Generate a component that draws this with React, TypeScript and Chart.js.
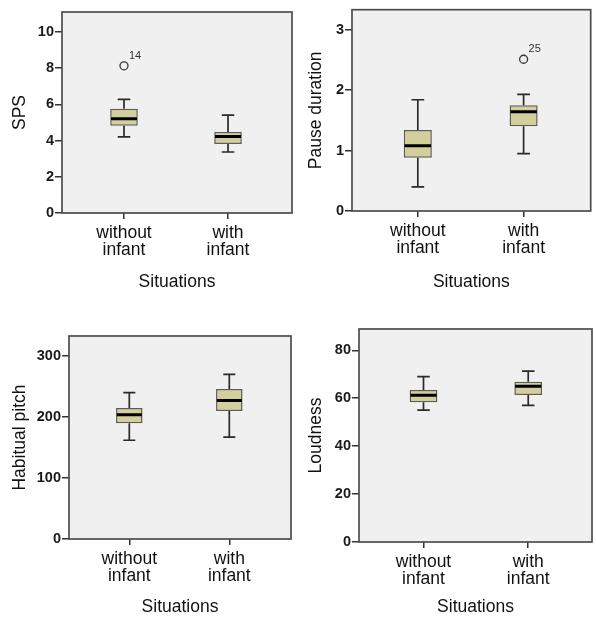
import React, { useEffect, useRef } from 'react';
import { Chart, registerables } from 'chart.js';

Chart.register(...registerables);

// ---------- data ----------
const categoryLabels = [['without', 'infant'], ['with', 'infant']];
const xAxisTitle = 'Situations';

const spsMin = [4.2, 3.37];
const spsQ1 = [4.82, 3.81];
const spsMedian = [5.21, 4.22];
const spsQ3 = [5.76, 4.47];
const spsMax = [6.28, 5.4];
const spsOutlierCat = [1];
const spsOutlierValue = [8.13];
const spsOutlierLabel = ['14'];
const spsTicks = [0, 2, 4, 6, 8, 10];

const pauseMin = [0.4, 0.95];
const pauseQ1 = [0.88, 1.4];
const pauseMedian = [1.08, 1.64];
const pauseQ3 = [1.34, 1.75];
const pauseMax = [1.84, 1.93];
const pauseOutlierCat = [2];
const pauseOutlierValue = [2.51];
const pauseOutlierLabel = ['25'];
const pauseTicks = [0, 1, 2, 3];

const pitchMin = [162, 167];
const pitchQ1 = [190, 210];
const pitchMedian = [204, 227];
const pitchQ3 = [215, 246];
const pitchMax = [240, 270];
const pitchTicks = [0, 100, 200, 300];

const loudMin = [55, 57];
const loudQ1 = [58.3, 61.4];
const loudMedian = [61.3, 65];
const loudQ3 = [63.4, 66.9];
const loudMax = [69, 71.3];
const loudTicks = [0, 20, 40, 60, 80];

// ---------- styling ----------
const FONT = '"Liberation Sans", Arial, sans-serif';
const TICK_FONT = '"Liberation Sans Narrow", "Liberation Sans", Arial, sans-serif';
const BOX_FILL = '#d3cf9d';
const BOX_BORDER = '#5c5c52';
const LINE = '#2a2a2a';
const PLOT_BG = '#f0f0f0';
const FRAME = '#4d4d4d';
const W = 298;
const H = 309;

type PanelProps = {
  title: string;
  min: number[];
  q1: number[];
  med: number[];
  q3: number[];
  max: number[];
  outCat: number[];
  outVal: number[];
  outLabel: string[];
  yMax: number;
  yTicks: number[];
  xMin: number;
  xMax: number;
  area: { left: number; top: number; right: number; bottom: number };
  yTitlePad: number;
  xTitlePad: number;
  pos: { left: number; top: number };
};

function BoxPanel(p: PanelProps) {
  const ref = useRef<HTMLCanvasElement | null>(null);

  useEffect(() => {
    const canvas = ref.current;
    if (!canvas) return;
    const cap = 0.06;
    const half = 0.125;

    const boxes = p.q1.map((v, i) => ({ x: i + 1, y: [v, p.q3[i]] }));
    const whiskers: any[] = [];
    p.min.forEach((mn, i) => {
      const x = i + 1;
      const mx = p.max[i];
      whiskers.push(
        { x, y: mn }, { x, y: p.q1[i] }, { x, y: null },
        { x, y: p.q3[i] }, { x, y: mx }, { x, y: null },
        { x: x - cap, y: mn }, { x: x + cap, y: mn }, { x, y: null },
        { x: x - cap, y: mx }, { x: x + cap, y: mx }, { x, y: null }
      );
    });
    const medians: any[] = [];
    p.med.forEach((m, i) => {
      const x = i + 1;
      medians.push({ x: x - half, y: m }, { x: x + half, y: m }, { x, y: null });
    });
    const outliers = p.outCat.map((c, i) => ({ x: c, y: p.outVal[i] }));

    const framePlugin = {
      id: 'frame',
      beforeDatasetsDraw(chart: any) {
        const { ctx, chartArea: a } = chart;
        ctx.save();
        ctx.fillStyle = PLOT_BG;
        ctx.fillRect(a.left, a.top, a.right - a.left, a.bottom - a.top);
        ctx.strokeStyle = FRAME;
        ctx.lineWidth = 1.7;
        ctx.strokeRect(a.left, a.top, a.right - a.left, a.bottom - a.top);
        ctx.restore();
      },
      afterDatasetsDraw(chart: any) {
        const meta = chart.getDatasetMeta(3);
        const ctx = chart.ctx;
        ctx.save();
        ctx.fillStyle = '#333';
        ctx.font = '11px ' + FONT;
        ctx.textAlign = 'left';
        ctx.textBaseline = 'alphabetic';
        meta.data.forEach((pt: any, i: number) => {
          ctx.fillText(p.outLabel[i], pt.x + 5, pt.y - 7);
        });
        ctx.restore();
      },
    };

    const chart = new Chart(canvas, {
      type: 'bar',
      data: {
        datasets: [
          {
            type: 'bar',
            data: boxes as any,
            backgroundColor: BOX_FILL,
            borderColor: BOX_BORDER,
            borderWidth: 1.5,
            borderSkipped: false,
            barPercentage: 0.265,
            categoryPercentage: 1,
            order: 2,
          } as any,
          {
            type: 'line',
            data: whiskers,
            borderColor: LINE,
            borderWidth: 1.7,
            pointRadius: 0,
            spanGaps: false,
            fill: false,
            order: 1,
          } as any,
          {
            type: 'line',
            data: medians,
            borderColor: '#000',
            borderWidth: 3,
            pointRadius: 0,
            spanGaps: false,
            fill: false,
            order: 0,
          } as any,
          {
            type: 'scatter',
            data: outliers,
            pointStyle: 'circle',
            pointRadius: 4,
            borderColor: '#333',
            backgroundColor: 'rgba(0,0,0,0)',
            borderWidth: 1.3,
            order: 0,
          } as any,
        ],
      },
      options: {
        responsive: false,
        animation: false,
        events: [],
        layout: {
          padding: { left: 0, top: p.area.top, right: W - p.area.right, bottom: 0 },
        },
        plugins: {
          legend: { display: false },
          tooltip: { enabled: false },
        },
        scales: {
          x: {
            type: 'linear',
            min: p.xMin,
            max: p.xMax,
            offset: false,
            afterBuildTicks: (s: any) => {
              s.ticks = categoryLabels.map((_, i) => ({ value: i + 1 }));
            },
            afterFit: (s: any) => {
              s.height = H - p.area.bottom;
            },
            ticks: {
              callback: (v: any) => categoryLabels[Number(v) - 1] as any,
              color: '#111',
              font: { family: FONT, size: 17.5, lineHeight: 0.97 },
              padding: 6,
              maxRotation: 0,
              autoSkip: false,
            },
            grid: {
              offset: false,
              drawOnChartArea: false,
              drawTicks: true,
              tickLength: 6,
              color: '#333',
              lineWidth: 1.5,
            },
            border: { display: false },
            title: {
              display: true,
              text: xAxisTitle,
              color: '#111',
              font: { family: FONT, size: 17.5 },
              padding: { top: 0, bottom: p.xTitlePad },
            },
          },
          y: {
            type: 'linear',
            min: 0,
            max: p.yMax,
            afterBuildTicks: (s: any) => {
              s.ticks = p.yTicks.map((v) => ({ value: v }));
            },
            afterFit: (s: any) => {
              s.width = p.area.left;
            },
            ticks: {
              color: '#1a1a1a',
              font: { family: TICK_FONT, size: 14.5, weight: 'bold' },
              padding: 1,
            },
            grid: {
              offset: false,
              drawOnChartArea: false,
              drawTicks: true,
              tickLength: 7,
              color: '#333',
              lineWidth: 1.5,
            },
            border: { display: false },
            title: {
              display: true,
              text: p.title,
              color: '#111',
              font: { family: FONT, size: 17.5 },
              padding: { top: p.yTitlePad, bottom: 0 },
            },
          },
        },
      } as any,
      plugins: [framePlugin],
    });

    return () => chart.destroy();
  }, []);

  return (
    <canvas
      ref={ref}
      width={W}
      height={H}
      style={{ position: 'absolute', left: p.pos.left, top: p.pos.top, width: W, height: H }}
    />
  );
}

export default function App() {
  return (
    <div style={{ position: 'fixed', left: 0, top: 0, width: 596, height: 618, background: '#fff' }}>
      <BoxPanel
        title="SPS"
        min={spsMin} q1={spsQ1} med={spsMedian} q3={spsQ3} max={spsMax}
        outCat={spsOutlierCat} outVal={spsOutlierValue} outLabel={spsOutlierLabel}
        yMax={11.1} yTicks={spsTicks} xMin={0.404} xMax={2.615}
        area={{ left: 62, top: 12, right: 292, bottom: 213 }}
        yTitlePad={9.5} xTitlePad={16}
        pos={{ left: 0, top: 0 }}
      />
      <BoxPanel
        title="Pause duration"
        min={pauseMin} q1={pauseQ1} med={pauseMedian} q3={pauseQ3} max={pauseMax}
        outCat={pauseOutlierCat} outVal={pauseOutlierValue} outLabel={pauseOutlierLabel}
        yMax={3.33} yTicks={pauseTicks} xMin={0.378} xMax={2.634}
        area={{ left: 54, top: 9, right: 296, bottom: 211 }}
        yTitlePad={8} xTitlePad={16.5}
        pos={{ left: 298, top: 0 }}
      />
      <BoxPanel
        title="Habitual pitch"
        min={pitchMin} q1={pitchQ1} med={pitchMedian} q3={pitchQ3} max={pitchMax}
        outCat={[]} outVal={[]} outLabel={[]}
        yMax={333} yTicks={pitchTicks} xMin={0.397} xMax={2.617}
        area={{ left: 69, top: 27, right: 291, bottom: 230 }}
        yTitlePad={9.5} xTitlePad={0}
        pos={{ left: 0, top: 309 }}
      />
      <BoxPanel
        title="Loudness"
        min={loudMin} q1={loudQ1} med={loudMedian} q3={loudQ3} max={loudMax}
        outCat={[]} outVal={[]} outLabel={[]}
        yMax={88.9} yTicks={loudTicks} xMin={0.384} xMax={2.609}
        area={{ left: 61, top: 20, right: 294, bottom: 233 }}
        yTitlePad={8} xTitlePad={0}
        pos={{ left: 298, top: 309 }}
      />
    </div>
  );
}
